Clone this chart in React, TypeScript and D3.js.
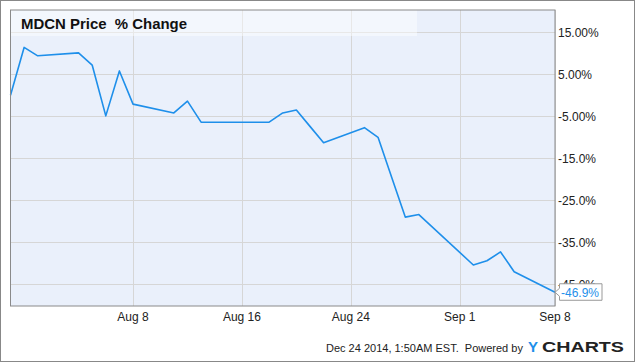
import React from "react";
import * as d3 from "d3";

const dates: string[] = [
  "2014-07-30", "2014-07-31", "2014-08-01", "2014-08-04", "2014-08-05", "2014-08-06",
  "2014-08-07", "2014-08-08", "2014-08-11", "2014-08-12", "2014-08-13", "2014-08-14",
  "2014-08-15", "2014-08-18", "2014-08-19", "2014-08-20", "2014-08-21", "2014-08-22",
  "2014-08-25", "2014-08-26", "2014-08-27", "2014-08-28", "2014-08-29", "2014-09-02",
  "2014-09-03", "2014-09-04", "2014-09-05", "2014-09-08",
];
const changes: number[] = [
  0, 11.4, 9.4, 10.1, 7.2, -4.9,
  5.8, -2.1, -4.2, -1.4, -6.4, -6.4,
  -6.4, -6.4, -4.2, -3.5, -7.4, -11.3,
  -7.7, -10.0, -19.5, -29.0, -28.4, -40.4,
  -39.4, -37.3, -42.0, -46.9,
];
const yTicks: number[] = [15, 5, -5, -15, -25, -35, -45];
const yTickLabels: string[] = ["15.00%", "5.00%", "-5.00%", "-15.0%", "-25.0%", "-35.0%", "-45.0%"];
const xTickDates: string[] = ["2014-08-08", "2014-08-16", "2014-08-24", "2014-09-01", "2014-09-08"];
const xTickLabels: string[] = ["Aug 8", "Aug 16", "Aug 24", "Sep 1", "Sep 8"];
const title = "MDCN Price  % Change";
const lastLabel = "-46.9%";
const footer = "Dec 24 2014, 1:50AM EST.  Powered by";

const parse = d3.utcParse("%Y-%m-%d");

export default function App() {
  const W = 635, H = 362;
  const L = 10.5, R = 555, T = 10, B = 306;
  const x = d3.scaleUtc().domain([parse("2014-07-30")!, parse("2014-09-08")!]).range([L, R]);
  const y = d3.scaleLinear().domain([-50.17, 20.31]).range([B, T]);
  const pts = dates.map((d, i) => [x(parse(d)!), y(changes[i])] as [number, number]);
  const line = d3.line<[number, number]>().x(p => p[0]).y(p => p[1]);
  const last = pts[pts.length - 1];
  const font = "Arial, 'Liberation Sans', sans-serif";

  return (
    <svg width={W} height={H} style={{ position: "absolute", left: 0, top: 0, fontFamily: font }}>
      <rect x={0.5} y={0.5} width={W - 1} height={H - 1} fill="#fff" stroke="#888" strokeWidth={1} />
      <rect x={L} y={T} width={R - L} height={B - T} fill="#eaf0fb" />
      {yTicks.map((t, i) => (
        <line key={"gy" + i} x1={L} x2={R} y1={Math.round(y(t)) + 0.5} y2={Math.round(y(t)) + 0.5} stroke="#d6d6d6" />
      ))}
      {xTickDates.map((d, i) => (
        <line key={"gx" + i} x1={Math.round(x(parse(d)!)) + 0.5} x2={Math.round(x(parse(d)!)) + 0.5} y1={T} y2={B} stroke="#d6d6d6" />
      ))}
      <rect x={L} y={T} width={417 - L} height={36 - T} fill="#ffffff" fillOpacity={0.45} />
      <text x={21} y={29} fontSize={15} fontWeight="bold" fill="#111" style={{ whiteSpace: "pre" }} textLength={166} lengthAdjust="spacingAndGlyphs">{title}</text>
      <path d={line(pts)!} fill="none" stroke="#1e8fea" strokeWidth={1.6} strokeLinejoin="round" />
      <rect x={L} y={T} width={R - L} height={B - T} fill="none" stroke="#8a8a8a" strokeWidth={1} />
      {yTicks.map((t, i) => (
        <text key={"ty" + i} x={558} y={y(t)} dy="0.36em" fontSize={12} fill="#222">{yTickLabels[i]}</text>
      ))}
      {xTickDates.map((d, i) => (
        <text key={"tx" + i} x={x(parse(d)!)} y={321} textAnchor="middle" fontSize={12} fill="#222">{xTickLabels[i]}</text>
      ))}
      <path
        d={`M${last[0]},${last[1]} L${last[0] + 4.5},${last[1] - 4} L${last[0] + 4.5},${last[1] - 8.5} L${last[0] + 47},${last[1] - 8.5} L${last[0] + 47},${last[1] + 8} L${last[0] + 4.5},${last[1] + 8} L${last[0] + 4.5},${last[1] + 4} Z`}
        fill="#fff" stroke="#999" strokeWidth={1}
      />
      <text x={last[0] + 6} y={last[1]} dy="0.36em" fontSize={12} fill="#1e8fea">{lastLabel}</text>
      <text x={326} y={352} fontSize={11} fill="#222" style={{ whiteSpace: "pre" }}>{footer}</text>
      <text x={528} y={352} fontSize={15} fontWeight="bold" fill="#1e8fea">Y</text>
      <text x={542} y={352} fontSize={15} fontWeight="bold" fill="#222" textLength={82} lengthAdjust="spacingAndGlyphs">CHARTS</text>
    </svg>
  );
}
